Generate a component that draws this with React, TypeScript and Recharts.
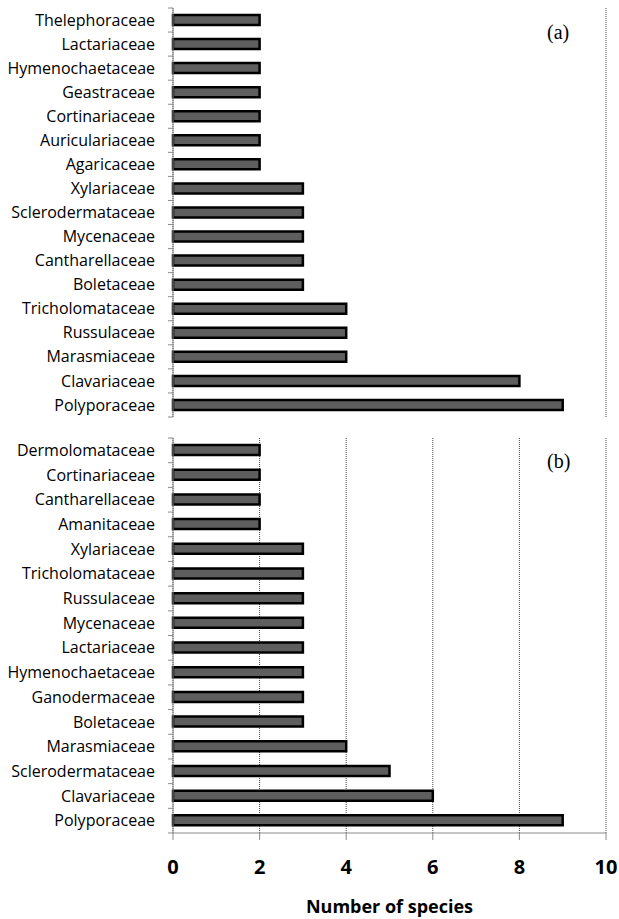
import { BarChart, Bar, XAxis, YAxis, CartesianGrid } from 'recharts';

const familiesA = [
    'Thelephoraceae', 'Lactariaceae', 'Hymenochaetaceae', 'Geastraceae', 'Cortinariaceae',
    'Auriculariaceae', 'Agaricaceae', 'Xylariaceae', 'Sclerodermataceae', 'Mycenaceae',
    'Cantharellaceae', 'Boletaceae', 'Tricholomataceae', 'Russulaceae', 'Marasmiaceae',
    'Clavariaceae', 'Polyporaceae',
];
const speciesA = [2, 2, 2, 2, 2, 2, 2, 3, 3, 3, 3, 3, 4, 4, 4, 8, 9];

const familiesB = [
    'Dermolomataceae', 'Cortinariaceae', 'Cantharellaceae', 'Amanitaceae', 'Xylariaceae',
    'Tricholomataceae', 'Russulaceae', 'Mycenaceae', 'Lactariaceae', 'Hymenochaetaceae',
    'Ganodermaceae', 'Boletaceae', 'Marasmiaceae', 'Sclerodermataceae', 'Clavariaceae',
    'Polyporaceae',
];
const speciesB = [2, 2, 2, 2, 3, 3, 3, 3, 3, 3, 3, 3, 4, 5, 6, 9];

const xTicks = [0, 2, 4, 6, 8, 10];

const dataA = familiesA.map((name, i) => ({ name, value: speciesA[i] }));
const dataB = familiesB.map((name, i) => ({ name, value: speciesB[i] }));

const AXIS_X = 173;
const FONT = '"Open Sans", sans-serif';
const AXIS_COLOR = '#8a8a8a';

// category label plus a small tick mark on the band boundary above it
const makeYTick = (band: number, count: number) => (props: any) => {
    const { y, payload, index } = props;
    return (
        <g>
            <line x1={AXIS_X - 5} x2={AXIS_X} y1={y - band / 2} y2={y - band / 2} stroke={AXIS_COLOR} />
            {index === count - 1 && (
                <line x1={AXIS_X - 5} x2={AXIS_X} y1={y + band / 2} y2={y + band / 2} stroke={AXIS_COLOR} />
            )}
            <text
                x={AXIS_X - 18}
                y={y}
                dy="0.35em"
                textAnchor="end"
                fontFamily={FONT}
                fontSize={16}
                fill="#000"
            >
                {payload.value}
            </text>
        </g>
    );
};

const panelLabel = (text: string, top: number) => (
    <div
        style={{
            position: 'absolute',
            left: 547,
            top,
            fontFamily: '"Liberation Serif", serif',
            fontSize: 20,
            color: '#000',
        }}
    >
        {text}
    </div>
);

export default function App() {
    const bandA = 409 / familiesA.length;
    const bandB = 395 / familiesB.length;

    return (
        <div style={{ position: 'absolute', left: 0, top: 0, width: 619, height: 919, background: '#fff' }}>
            <div style={{ position: 'absolute', left: 0, top: 0 }}>
                <BarChart
                    width={619}
                    height={420}
                    data={dataA}
                    layout="vertical"
                    margin={{ top: 8, right: 13, left: 0, bottom: 3 }}
                    barCategoryGap={0}
                >
                    <CartesianGrid horizontal={false} strokeDasharray="1 1" stroke="#444" />
                    <XAxis
                        type="number"
                        domain={[0, 10]}
                        ticks={xTicks}
                        tick={false}
                        tickLine={false}
                        height={0}
                        axisLine={{ stroke: AXIS_COLOR }}
                    />
                    <YAxis
                        type="category"
                        dataKey="name"
                        width={AXIS_X}
                        axisLine={{ stroke: AXIS_COLOR }}
                        tickLine={false}
                        interval={0}
                        tick={makeYTick(bandA, familiesA.length)}
                    />
                    <Bar dataKey="value" fill="#5e5e5e" stroke="#000" strokeWidth={2.5} barSize={10} isAnimationActive={false} />
                </BarChart>
            </div>
            {panelLabel('(a)', 21)}
            <div style={{ position: 'absolute', left: 0, top: 430 }}>
                <BarChart
                    width={619}
                    height={489}
                    data={dataB}
                    layout="vertical"
                    margin={{ top: 8, right: 13, left: 0, bottom: 0 }}
                    barCategoryGap={0}
                >
                    <CartesianGrid horizontal={false} strokeDasharray="1 1" stroke="#444" />
                    <XAxis
                        type="number"
                        domain={[0, 10]}
                        ticks={xTicks}
                        height={86}
                        tickSize={7}
                        tickMargin={20}
                        tickLine={{ stroke: AXIS_COLOR }}
                        axisLine={{ stroke: AXIS_COLOR }}
                        tick={{ fontFamily: FONT, fontSize: 20, fontWeight: 700, fill: '#000' }}
                        label={{
                            value: 'Number of species',
                            position: 'insideBottom',
                            offset: 6,
                            style: { fontFamily: FONT, fontSize: 18, fontWeight: 700, fill: '#000' },
                        }}
                    />
                    <YAxis
                        type="category"
                        dataKey="name"
                        width={AXIS_X}
                        axisLine={{ stroke: AXIS_COLOR }}
                        tickLine={false}
                        interval={0}
                        tick={makeYTick(bandB, familiesB.length)}
                    />
                    <Bar dataKey="value" fill="#5e5e5e" stroke="#000" strokeWidth={2.5} barSize={10} isAnimationActive={false} />
                </BarChart>
            </div>
            {panelLabel('(b)', 450)}
        </div>
    );
}
